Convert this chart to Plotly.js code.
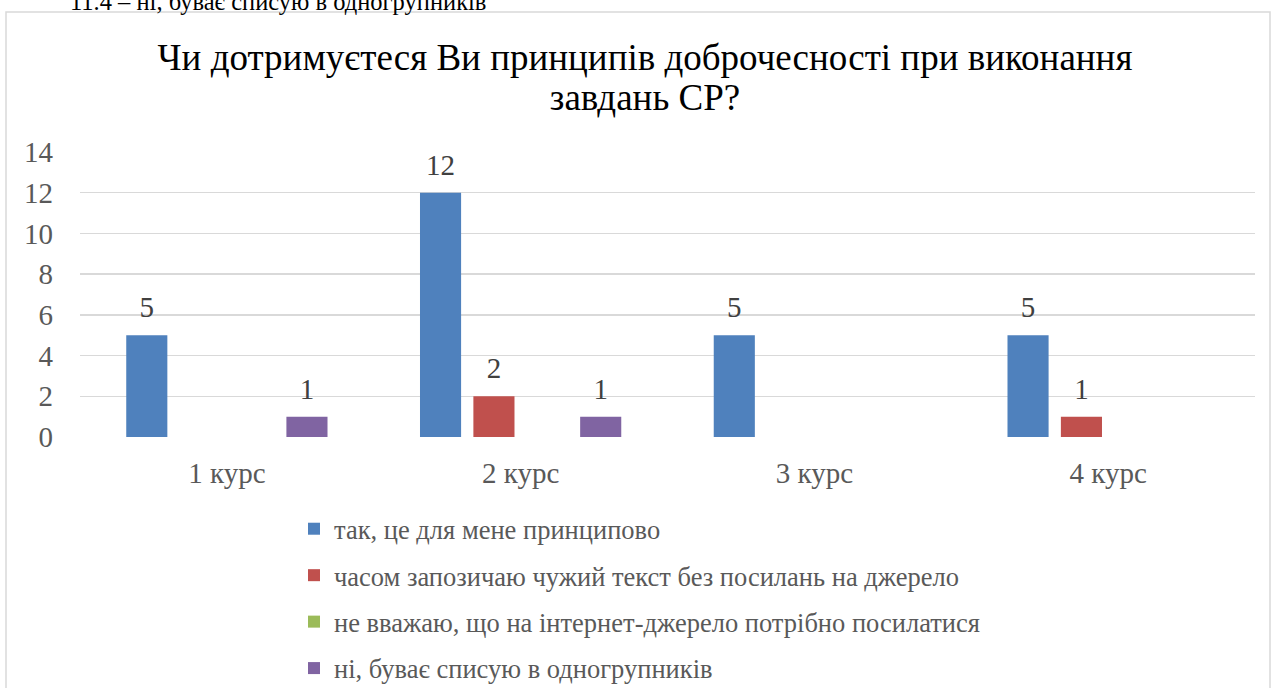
<!DOCTYPE html>
<html>
<head>
<meta charset="utf-8">
<script src="https://cdn.plot.ly/plotly-3.0.1.min.js"></script>
<style>
  html, body { margin: 0; padding: 0; background: #fff; }
  #chart { width: 1273px; height: 688px; }
</style>
</head>
<body>
<div id="chart"></div>
<script>
const categories = ["1 курс", "2 курс", "3 курс", "4 курс"];
const seriesNames = [
  "так, це для мене принципово",
  "часом запозичаю чужий текст без посилань на джерело",
  "не вважаю, що на інтернет-джерело потрібно посилатися",
  "ні, буває списую в одногрупників"
];
const yesValues = [5, 12, 5, 5];
const borrowValues = [0, 2, 0, 1];
const noLinkValues = [0, 0, 0, 0];
const copyValues = [1, 1, 0, 0];
const yTicks = [0, 2, 4, 6, 8, 10, 12, 14];
const titleLines = ["Чи дотримуєтеся Ви принципів доброчесності при виконання", "завдань СР?"];
const topText = "11.4 – ні, буває списую в одногрупників";

const colors = ["#4F81BD", "#C0504D", "#9BBB59", "#8064A2"];
const allValues = [yesValues, borrowValues, noLinkValues, copyValues];
const FONT = "Liberation Serif, DejaVu Serif, serif";

const W = 1273, H = 688;
const M = { l: 80, r: 18, t: 152, b: 251, autoexpand: false };
const pw = W - M.l - M.r, ph = H - M.t - M.b;
const px2paperX = p => (p - M.l) / pw;
const px2paperY = p => 1 - (p - M.t) / ph;

const barTraces = allValues.map((vals, i) => ({
  type: "bar",
  name: seriesNames[i],
  x: categories,
  y: vals,
  marker: { color: colors[i] },
  legendgroup: "g" + i,
  hoverinfo: "x+y+name"
}));

// value labels: invisible markers, text placed above each bar top
const labelTraces = allValues.map((vals, i) => ({
  type: "scatter",
  mode: "markers+text",
  x: categories,
  y: vals,
  text: vals.map(v => (v ? String(v) : "")),
  textposition: "top center",
  textfont: { family: FONT, size: 29, color: "#404040" },
  marker: { size: 15.5, opacity: 0, color: colors[i] },
  cliponaxis: false,
  showlegend: false,
  hoverinfo: "skip",
  legendgroup: "g" + i
}));

const layout = {
  width: W, height: H,
  margin: M,
  paper_bgcolor: "#ffffff",
  plot_bgcolor: "#ffffff",
  font: { family: FONT, color: "#595959" },
  barmode: "group",
  bargap: 0.273,
  bargroupgap: 0.23,
  scattermode: "group",
  scattergap: 0.273,
  title: {
    text: titleLines.map(t => '<span style="font-size:37px">' + t + '</span>').join("<br>"),
    font: { family: FONT, size: 31, color: "#000000" },
    x: 645 / W, xanchor: "center",
    y: 1 - 70 / H, yanchor: "top",
    xref: "container", yref: "container"
  },
  xaxis: {
    type: "category",
    showgrid: false, zeroline: false, showline: false,
    ticks: "", ticklabelstandoff: 16,
    tickfont: { family: FONT, size: 29, color: "#595959" }
  },
  yaxis: {
    range: [0, 14],
    tickvals: yTicks,
    ticktext: yTicks.map(String),
    showgrid: true, gridcolor: "#d9d9d9", gridwidth: 1.3,
    zeroline: false, showline: false,
    ticks: "", ticklabelstandoff: 26,
    tickfont: { family: FONT, size: 29, color: "#595959" }
  },
  showlegend: true,
  legend: {
    orientation: "v",
    xref: "container", yref: "container",
    x: 294 / W, xanchor: "left",
    y: 1 - 505 / H, yanchor: "top",
    font: { family: FONT, size: 26.5, color: "#595959" },
    tracegroupgap: 9,
    bgcolor: "rgba(0,0,0,0)"
  },
  shapes: [{
    type: "rect", xref: "paper", yref: "paper",
    x0: px2paperX(6), x1: px2paperX(1270),
    y0: px2paperY(700), y1: px2paperY(12),
    line: { color: "#d9d9d9", width: 1.5 },
    fillcolor: "rgba(0,0,0,0)",
    layer: "below"
  }],
  annotations: [{
    text: topText,
    xref: "paper", yref: "paper",
    x: px2paperX(68), xanchor: "left",
    y: px2paperY(17), yanchor: "bottom",
    showarrow: false,
    font: { family: FONT, size: 24.5, color: "#000000" }
  }]
};

Plotly.newPlot("chart", barTraces.concat(labelTraces), layout, { displayModeBar: false, staticPlot: true });
</script>
</body>
</html>
